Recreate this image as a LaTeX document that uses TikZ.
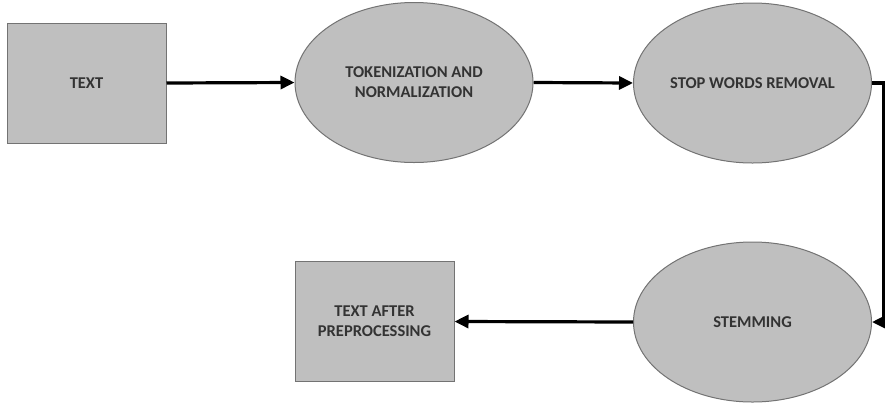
\documentclass[tikz,border=0pt]{standalone}
\usepackage{fontspec}
\setmainfont{Carlito}
\usetikzlibrary{shapes.geometric,arrows.meta}
\begin{document}
\begin{tikzpicture}[x=1pt,y=-1pt,
  every node/.style={font=\bfseries\fontsize{16.5}{20}\selectfont, text=black!80, align=center, inner sep=0pt},
  boxnode/.style={rectangle, draw=black!55, line width=1pt, fill=black!25, minimum width=159pt, minimum height=120pt},
  ovalnode/.style={ellipse, draw=black!55, line width=1pt, fill=black!25, minimum width=238pt, minimum height=160pt},
  flow/.style={draw=black, line width=3.2pt, -{Triangle[length=14pt,width=13pt]}}
]
\useasboundingbox (0,0) rectangle (885,402);
\node[boxnode]  (txt)  at (86.5,83)  {TEXT};
\node[ovalnode] (tok)  at (414,82.5) {TOKENIZATION AND\\NORMALIZATION};
\node[ovalnode] (stop) at (752.5,83) {STOP WORDS REMOVAL};
\node[ovalnode] (stem) at (752.5,322) {STEMMING};
\node[boxnode]  (out)  at (374.5,321.5) {TEXT AFTER\\PREPROCESSING};
\coordinate (turn) at (884,83);
\draw[flow] (txt.east) -- (tok.west);
\draw[flow] (tok.east) -- (stop.west);
\draw[flow] (stop.east) -- (turn) |- (stem.east);
\draw[flow] (stem.west) -- (out.east);
\end{tikzpicture}
\end{document}
